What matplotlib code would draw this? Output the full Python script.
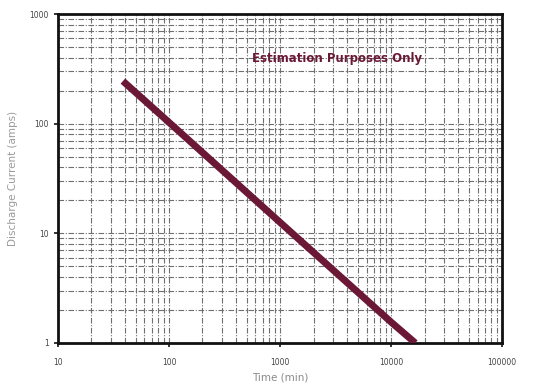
import matplotlib
matplotlib.use("Agg")
import matplotlib.pyplot as plt
from matplotlib.ticker import LogLocator, NullFormatter

# Discharge time (min) vs. discharge current (amps)
time_min = [38.5, 100, 1000, 10000, 16500]
current_amps = [245, 103, 12.6, 1.55, 1.0]

x_ticks = [10, 100, 1000, 10000, 100000]
x_tick_labels = ["10", "100", "1000", "10000", "100000"]
y_ticks = [1, 10, 100, 1000]
y_tick_labels = ["1", "10", "100", "1000"]

fig = plt.figure(figsize=(5.36, 3.92), dpi=100)
ax = fig.add_axes([0.108, 0.125, 0.829, 0.839])

ax.set_xscale("log")
ax.set_yscale("log")
ax.set_xlim(10, 100000)
ax.set_ylim(1, 1000)

ax.set_xticks(x_ticks)
ax.set_xticklabels(x_tick_labels)
ax.set_yticks(y_ticks)
ax.set_yticklabels(y_tick_labels)
ax.xaxis.set_minor_locator(LogLocator(base=10, subs=range(2, 10)))
ax.yaxis.set_minor_locator(LogLocator(base=10, subs=range(2, 10)))
ax.xaxis.set_minor_formatter(NullFormatter())
ax.yaxis.set_minor_formatter(NullFormatter())

ax.grid(which="both", color="#6f6f6f", linestyle=(0, (5, 1.5, 1, 1.5)), linewidth=0.8)
ax.set_axisbelow(True)

ax.plot(time_min, current_amps, color="#6a1835", linewidth=5, solid_capstyle="butt", zorder=3)

ax.text(560, 390, "Estimation Purposes Only", color="#6a1835", fontsize=8.5,
        fontweight="heavy", va="center", ha="left", zorder=4)

for s in ax.spines.values():
    s.set_linewidth(2)
    s.set_color("#111111")

ax.tick_params(which="major", direction="out", length=3, width=1.2, labelsize=5.5,
               color="#111111", labelcolor="#444444")
ax.tick_params(which="minor", length=0)
ax.tick_params(axis="x", pad=8)

ax.set_xlabel("Time (min)", fontsize=7.5, color="#8a8a8a", labelpad=4)
ax.set_ylabel("Discharge Current (amps)", fontsize=7.5, color="#9a9a9a", labelpad=8)

fig.savefig("out.png", dpi=100, facecolor="white")
